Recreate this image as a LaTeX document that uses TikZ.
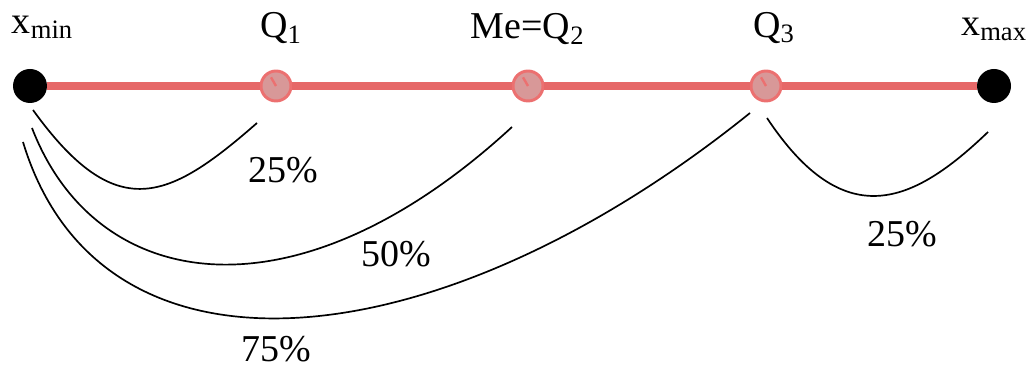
\documentclass[tikz,border=0pt]{standalone}
\usepackage{fontspec}
\setmainfont{Liberation Serif}
\definecolor{lineared}{RGB}{230,104,104}
\definecolor{qborde}{RGB}{236,112,112}
\definecolor{qrelleno}{RGB}{216,152,152}
\begin{document}
\begin{tikzpicture}
    % Estilo para los extremos y los cuartiles
    \tikzstyle{extremo_style} = [circle, fill=black, inner sep=0pt, minimum size=0.85cm]
    \tikzstyle{cuartil_style} = [circle, draw=qborde, fill=qrelleno, line width=2.1pt, inner sep=0pt, minimum size=0.75cm]

    % Estilo para la recta, las agujas y los arcos
    \tikzstyle{recta_style} = [line width=5.7pt, draw=lineared]
    \tikzstyle{aguja_style} = [line width=1.7pt, draw=qborde]
    \tikzstyle{arco_style} = [line width=1.2pt, draw=black]

    % Estilo para los textos
    \tikzstyle{texto_style} = [anchor=base, inner sep=0pt, font=\fontsize{27}{30}\selectfont]

    \useasboundingbox (0,0) rectangle (25.725,9.25);

    % Puntos sobre la recta
    \node[extremo_style] (xmin) at (0.75, 7.1) {};
    \node[cuartil_style] (Q1) at (6.9, 7.1) {};
    \node[cuartil_style] (Q2) at (13.2, 7.1) {};
    \node[cuartil_style] (Q3) at (19.15, 7.1) {};
    \node[extremo_style] (xmax) at (24.85, 7.1) {};

    % Recta entre los puntos
    \draw[recta_style] (xmin) -- (Q1) -- (Q2) -- (Q3) -- (xmax);
    \draw[aguja_style] (Q1.center) -- ++(120:0.25);
    \draw[aguja_style] (Q2.center) -- ++(120:0.25);
    \draw[aguja_style] (Q3.center) -- ++(120:0.25);

    % Nombres de los puntos
    \node[texto_style] (lxmin) at (1.06, 8.42) {x\textsubscript{min}};
    \node[texto_style] (lQ1) at (7.025, 8.3) {Q\textsubscript{1}};
    \node[texto_style] (lQ2) at (13.19, 8.28) {Me=Q\textsubscript{2}};
    \node[texto_style] (lQ3) at (19.35, 8.32) {Q\textsubscript{3}};
    \node[texto_style] (lxmax) at (24.85, 8.37) {x\textsubscript{max}};

    % Arcos con los porcentajes
    \draw[arco_style] ([shift={(0.075,-0.6)}]xmin.center) .. controls +(2.075,-2.875) and +(-2.225,-1.95) .. ([shift={(-0.475,-0.925)}]Q1.center);
    \draw[arco_style] ([shift={(0.05,-1.05)}]xmin.center) .. controls +(1.6,-4.15) and +(-5.4,-4.975) .. ([shift={(-0.4,-1.025)}]Q2.center);
    \draw[arco_style] ([shift={(-0.175,-1.4)}]xmin.center) .. controls +(1.95,-6.45) and +(-7.725,-6.225) .. ([shift={(-0.4,-0.675)}]Q3.center);
    \draw[arco_style] ([shift={(0.025,-0.8)}]Q3.center) .. controls +(1.925,-2.9) and +(-1.9,-1.825) .. ([shift={(-0.15,-1.15)}]xmax.center);

    \node[texto_style] (p25a) at (7.075, 4.675) {25\%};
    \node[texto_style] (p50) at (9.9, 2.575) {50\%};
    \node[texto_style] (p75) at (6.9, 0.2) {75\%};
    \node[texto_style] (p25b) at (22.55, 3.075) {25\%};

\end{tikzpicture}
\end{document}
